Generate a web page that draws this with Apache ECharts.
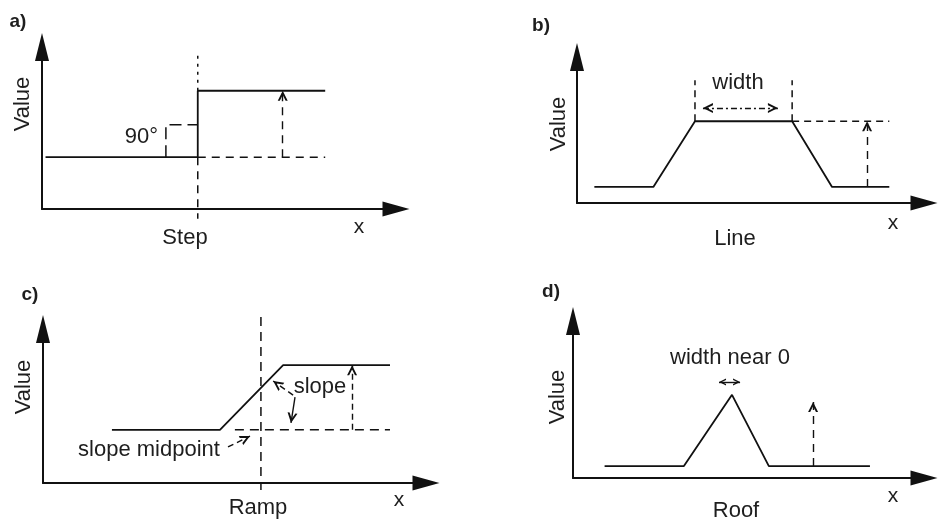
<!DOCTYPE html>
<html>
<head>
<meta charset="utf-8">
<script src="https://cdn.jsdelivr.net/npm/echarts@6/dist/echarts.min.js"></script>
<style>
  html, body { margin: 0; padding: 0; background: #fff; }
  #main { width: 939px; height: 523px; }
</style>
</head>
<body>
<div id="main"></div>
<script>
// Panel captions and names
const panelTags = ['a)', 'b)', 'c)', 'd)'];
const panelNames = ['Step', 'Line', 'Ramp', 'Roof'];
const axisTitle = 'Value';
const axisVar = 'x';

// a) Step: value jumps from the low level to the high level
const stepX = [1, 44, 44, 80];
const stepY = [32, 32, 73, 73];
const stepDotted = [[[44, 73], [44, 97]]];
const stepDashed = [[[44, 32], [44, -6]], [[44, 32], [80, 32]]];
const stepCorner = [[[35, 32], [35, 52], [44, 52]]];
const stepArrows = [[[68, 32], [68, 73]]];

// b) Line: plateau of a given width
const lineX = [5, 22, 34, 62, 73.5, 90];
const lineY = [11, 11, 56, 56, 11, 11];
const lineDashed = [[[34, 56], [34, 84]], [[62, 56], [62, 84]], [[62, 56], [90, 56]]];
const lineArrows = [[[83.6, 11], [83.6, 56]]];
const lineWidthArrow = [[[36.3, 65], [57.9, 65]]];

// c) Ramp: linear transition around the slope midpoint
const rampX = [18, 46.2, 62.7, 90.6];
const rampY = [34.5, 34.5, 76.5, 76.5];
const rampDashed = [[[56.9, 107.8], [56.9, -4.5]], [[50.1, 34.5], [90.6, 34.5]]];
const rampArrows = [[[80.7, 34.5], [80.7, 76.5]], [[65.3, 57.1], [60.1, 66.2]], [[48.3, 23.4], [54.05, 30.5]]];
const rampSolidArrows = [[[65.8, 55.8], [64.75, 39.0]]];

// d) Roof: peak with width near zero
const roofX = [9, 31.6, 45.3, 55.8, 84.6];
const roofY = [7.6, 7.6, 53, 7.6, 7.6];
const roofArrows = [[[68.4, 7.6], [68.4, 48.4]]];
const roofWidthArrow = [[[41.6, 61.1], [47.6, 61.1]]];

const ink = '#111';
const textInk = '#1e1e1e';
const fontFamily = "'Liberation Sans', Arial, Helvetica, sans-serif";
// open arrow head, tip at the top of its box
const chevron = 'path://M0,10 L5,0 L10,10 L7.9,10 L5,4.2 L2.1,10 Z';

const grids = [
  { left: 42, top: 47, width: 354, height: 162 },
  { left: 577, top: 57, width: 347, height: 146 },
  { left: 43, top: 329, width: 383, height: 154 },
  { left: 573, top: 321, width: 351, height: 157 }
];

function axis(i, isX) {
  return {
    type: 'value', gridIndex: i, min: 0, max: 100,
    axisLine: {
      show: true, onZero: false,
      symbol: ['none', 'triangle'],
      symbolSize: isX ? [15, 27] : [14, 28],
      lineStyle: { color: ink, width: 2 }
    },
    axisTick: { show: false },
    axisLabel: { show: false },
    splitLine: { show: false }
  };
}

function curve(i, xs, ys) {
  return {
    type: 'line', xAxisIndex: i, yAxisIndex: i,
    data: xs.map((x, k) => [x, ys[k]]),
    symbol: 'none', clip: false, silent: true, animation: false,
    lineStyle: { color: ink, width: 1.8 }
  };
}

function guides(i, segs, dash, width) {
  return segs.map(seg => ({
    type: 'line', xAxisIndex: i, yAxisIndex: i,
    data: seg, symbol: 'none', clip: false, silent: true, animation: false,
    lineStyle: { color: ink, width: width || 1.5, type: dash }
  }));
}

function arrows(i, segs, dash, both, size) {
  return {
    type: 'line', xAxisIndex: i, yAxisIndex: i, data: [],
    clip: false, silent: true, animation: false,
    markLine: {
      silent: true, animation: false,
      symbol: both ? [chevron, chevron] : ['none', chevron],
      symbolSize: size || 10,
      symbolOffset: [[0, '50%'], [0, '50%']],
      label: { show: false },
      emphasis: { disabled: true },
      lineStyle: { color: ink, width: 1.4, type: dash },
      data: segs.map(s => [{ coord: s[0] }, { coord: s[1] }])
    }
  };
}

function text(str, x, y, size, opts) {
  opts = opts || {};
  return {
    type: 'text', x: x, y: y, rotation: opts.rotation || 0, silent: true,
    style: {
      text: str,
      font: (opts.bold ? 'bold ' : '') + size + 'px ' + fontFamily,
      fill: textInk,
      align: opts.align || 'center',
      verticalAlign: 'middle'
    }
  };
}

const series = [].concat(
  curve(0, stepX, stepY),
  guides(0, stepDotted, [3, 5]),
  guides(0, stepDashed, [8, 6]),
  guides(0, stepCorner, [12, 6]),
  arrows(0, stepArrows, [8, 6]),

  curve(1, lineX, lineY),
  guides(1, lineDashed, [7, 5]),
  arrows(1, lineArrows, [8, 6]),
  arrows(1, lineWidthArrow, [6, 3, 2, 3], true),

  curve(2, rampX, rampY),
  guides(2, rampDashed, [9, 6]),
  arrows(2, rampArrows, [6, 4]),
  arrows(2, rampSolidArrows, 'solid'),

  curve(3, roofX, roofY),
  arrows(3, roofArrows, [8, 6]),
  arrows(3, roofWidthArrow, 'solid', true, 7)
);

const graphics = [
  text(panelTags[0], 18, 22, 19, { bold: true }),
  text(panelTags[1], 541, 26, 19, { bold: true }),
  text(panelTags[2], 30, 295, 19, { bold: true }),
  text(panelTags[3], 551, 292, 19, { bold: true }),

  text(axisTitle, 23, 104, 22, { rotation: Math.PI / 2 }),
  text(axisTitle, 559, 124, 22, { rotation: Math.PI / 2 }),
  text(axisTitle, 24, 387, 22, { rotation: Math.PI / 2 }),
  text(axisTitle, 558, 397, 22, { rotation: Math.PI / 2 }),

  text(panelNames[0], 185, 238, 22),
  text(panelNames[1], 735, 239, 22),
  text(panelNames[2], 258, 508, 22),
  text(panelNames[3], 736, 511, 22),

  text(axisVar, 359, 227, 21),
  text(axisVar, 893, 223, 21),
  text(axisVar, 399, 500, 21),
  text(axisVar, 893, 496, 21),

  text('90°', 158, 137, 22, { align: 'right' }),
  text('width', 738, 83, 22),
  text('slope', 320, 387, 22),
  text('slope midpoint', 149, 450, 22),
  text('width near 0', 730, 358, 22)
];

const chart = echarts.init(document.getElementById('main'), null, { renderer: 'canvas' });
chart.setOption({
  backgroundColor: '#fff',
  animation: false,
  grid: grids,
  xAxis: grids.map((g, i) => axis(i, true)),
  yAxis: grids.map((g, i) => axis(i, false)),
  series: series,
  graphic: graphics
});
</script>
</body>
</html>
